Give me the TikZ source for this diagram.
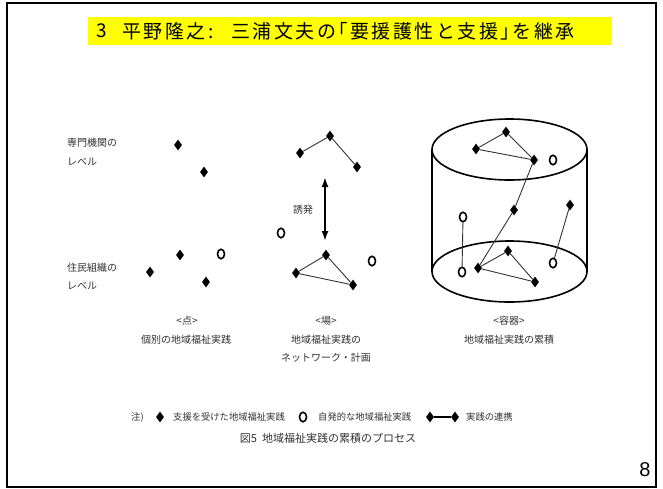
\documentclass[tikz,border=0pt]{standalone}
\usepackage{fontspec}
\newfontfamily\jp{Noto Sans CJK JP}
\newfontfamily\jptitle[LetterSpace=13]{Noto Sans CJK JP}
\setmainfont{Liberation Sans}
\usetikzlibrary{arrows.meta,shapes.geometric}
\definecolor{titleyellow}{HTML}{FFFF00}
\definecolor{figtext}{HTML}{333333}
\tikzset{
  dia/.style={fill=black, draw=none, shape=diamond, inner sep=0pt, minimum width=8pt, minimum height=11pt},
  ring/.style={draw=black, line width=1.6pt, ellipse, inner sep=0pt, minimum width=7pt, minimum height=9.5pt, fill=white},
  link/.style={draw=black!80, line width=0.9pt},
  lbl/.style={font=\jp\fontsize{10}{12}\selectfont, text=figtext, inner sep=0pt, anchor=west},
  clbl/.style={font=\jp\fontsize{10}{12}\selectfont, text=figtext, inner sep=0pt},
  leg/.style={font=\jp\fontsize{9.3}{11}\selectfont, text=figtext, inner sep=0pt, anchor=west},
  ttl/.style={font=\jptitle\fontsize{19}{22}\selectfont, inner sep=0pt, anchor=west},
  cyl/.style={draw=black, line width=1.6pt}
}
\begin{document}
\begin{tikzpicture}[x=1pt,y=-1pt]
\useasboundingbox (0,0) rectangle (663,488);
\fill[white] (0,0) rectangle (663,488);
\draw[line width=2pt] (7,3) rectangle (656,487);
% title
\fill[titleyellow] (88,17) rectangle (612,45);
\node[ttl] (t1) at (96,31) {3};
\node[ttl] (t2) at (122,31) {平野隆之:};
\node[ttl] (t3) at (231,31) {三浦文夫の｢要援護性と支援｣を継承};
% page number
\node[font=\fontsize{20}{22}\selectfont, inner sep=0pt] (pg) at (645,470) {8};
% left labels
\node[lbl] (l1a) at (67,143) {専門機関の};
\node[lbl] (l1b) at (67,162) {レベル};
\node[lbl] (l2a) at (67,268) {住民組織の};
\node[lbl] (l2b) at (67,286) {レベル};
% column 1
\node[dia] (a1) at (178,145) {};
\node[dia] (a2) at (204,172) {};
\node[dia] (a3) at (180,255) {};
\node[ring] (a4) at (221,254) {};
\node[dia] (a5) at (150,272) {};
\node[dia] (a6) at (206,282) {};
\node[clbl] (c1a) at (187,321) {<点>};
\node[clbl] (c1b) at (186,340) {個別の地域福祉実践};
% column 2
\node[dia] (b1) at (300,153) {};
\node[dia] (b2) at (330,136) {};
\node[dia] (b3) at (357,167) {};
\draw[link] (b1) -- (b2) -- (b3);
\coordinate (arT) at (325,177);
\coordinate (arB) at (325,241);
\draw[line width=1.8pt, {Latex[length=10pt,width=7pt]}-{Latex[length=10pt,width=7pt]}] (arT) -- (arB);
\node[clbl] (yuha) at (303,210) {誘発};
\node[ring] (b4) at (281,233) {};
\node[ring] (b5) at (372,261) {};
\node[dia] (b6) at (326,255) {};
\node[dia] (b7) at (296,273) {};
\node[dia] (b8) at (353,285) {};
\draw[link] (b7) -- (b6) -- (b8) -- (b7);
\node[clbl] (c2a) at (326,321) {<場>};
\node[clbl] (c2b) at (326,340) {地域福祉実践の};
\node[clbl] (c2c) at (326,358) {ネットワーク・計画};
% column 3 cylinder
\draw[cyl] (509.5,149.5) ellipse [x radius=77.5, y radius=30.5];
\draw[cyl] (509.5,271.5) ellipse [x radius=77.5, y radius=30.5];
\draw[cyl] (432,149.5) -- (432,271.5);
\draw[cyl] (587,149.5) -- (587,271.5);
\node[dia] (d1) at (506,132) {};
\node[dia] (d2) at (476,149) {};
\node[dia] (d3) at (534,160) {};
\node[ring] (d4) at (553,160) {};
\node[dia] (d5) at (514,210) {};
\node[dia] (d6) at (570,205) {};
\node[ring] (d7) at (553,263) {};
\node[ring] (d8) at (463,217) {};
\node[ring] (d9) at (462,272) {};
\node[dia] (d10) at (478,268) {};
\node[dia] (d11) at (508,251) {};
\node[dia] (d12) at (535,282) {};
\draw[link] (d2) -- (d1) -- (d3) -- (d2);
\draw[link] (d3) -- (d5) -- (d10);
\draw[link] (d6) -- (d7);
\draw[link] (d8) -- (d9);
\draw[link] (d10) -- (d11) -- (d12) -- (d10);
\node[clbl] (c3a) at (509,321) {<容器>};
\node[clbl] (c3b) at (509,340) {地域福祉実践の累積};
% legend
\node[leg] (n0) at (131,417) {注)};
\node[dia] (ld) at (160,417) {};
\node[leg] (n1) at (173,417) {支援を受けた地域福祉実践};
\node[ring] (lc) at (303,417) {};
\node[leg] (n2) at (318,417) {自発的な地域福祉実践};
\node[dia] (le1) at (430,417) {};
\node[dia] (le2) at (455,417) {};
\draw[line width=1.2pt] (le1) -- (le2);
\node[leg] (n3) at (466,417) {実践の連携};
\node[clbl, font=\jp\fontsize{11}{13}\selectfont] (cap) at (328,438) {図5\ \ 地域福祉実践の累積のプロセス};
\end{tikzpicture}
\end{document}
